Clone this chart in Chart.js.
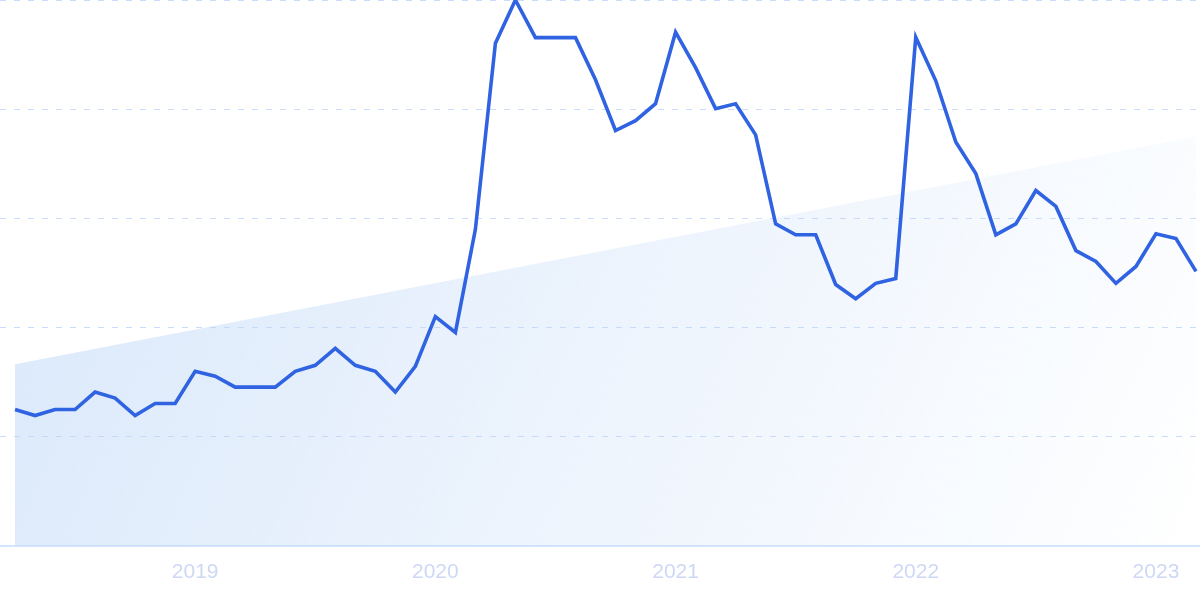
<!DOCTYPE html>
<html>
<head>
<meta charset="utf-8">
<script src="https://cdn.jsdelivr.net/npm/chart.js@4"></script>
<style>
  html, body { margin: 0; padding: 0; background: #fff; }
  #wrap { width: 1200px; height: 599px; position: relative; }
</style>
</head>
<body>
<div id="wrap"><canvas id="trendChart"></canvas></div>
<script>
/* 月度搜索热度 2018-04 ~ 2023-03 */

const interest = [
  25.0, 23.9, 25.0, 25.0, 28.2, 27.1, 23.9, 26.1, 26.1,
  32.0, 31.1, 29.1, 29.1, 29.1, 32.0, 33.1, 36.2, 33.1, 32.0, 28.2, 32.9, 42.0,
  39.1, 58.0, 92.1, 100, 93.1, 93.1, 93.1, 85.4, 76.1, 77.9, 81.0, 94.1,
  87.6, 80.1, 81.0, 75.3, 59.0, 57.0, 57.0, 47.9, 45.3, 48.1, 49.0, 93.2,
  85.2, 74.0, 68.2, 57.0, 59.0, 65.1, 62.2, 54.1, 52.1, 48.1, 51.2, 57.2,
  56.3, 50.3
];
const yearTicks = [9, 21, 33, 45, 57];
const yearLabels = ['2019', '2020', '2021', '2022', '2023'];
const trendStart = 33.3;
const trendEnd = 75.0;

const lineData = interest.map((v, i) => ({ x: i, y: v }));
const trendData = [
  { x: 0, y: trendStart },
  { x: interest.length - 1, y: trendEnd }
];

// 半透明渐变，让网格线透出来
function trendFill(context) {
  const chart = context.chart;
  const area = chart.chartArea;
  if (!area) return 'rgba(190,215,247,0.5)';
  const g = chart.ctx.createLinearGradient(area.left, area.top, area.right, area.bottom);
  g.addColorStop(0, 'rgba(188,214,247,0.58)');
  g.addColorStop(1, 'rgba(188,214,247,0)');
  return g;
}

new Chart(document.getElementById('trendChart'), {
  type: 'line',
  data: {
    datasets: [
      {
        label: 'interest',
        data: lineData,
        borderColor: '#2f63e1',
        borderWidth: 3.6,
        pointRadius: 0,
        tension: 0,
        fill: false,
        order: 1
      },
      {
        label: 'trend',
        data: trendData,
        borderWidth: 0,
        borderColor: 'rgba(0,0,0,0)',
        backgroundColor: trendFill,
        pointRadius: 0,
        fill: 'origin',
        order: 2
      }
    ]
  },
  options: {
    responsive: true,
    maintainAspectRatio: false,
    animation: false,
    layout: { padding: { left: 0, right: 0, top: 0, bottom: 0 } },
    plugins: { legend: { display: false }, tooltip: { enabled: false } },
    scales: {
      x: {
        type: 'linear',
        min: -0.75,
        max: 59.2,
        afterBuildTicks: axis => {
          axis.ticks = yearTicks.map(v => ({ value: v }));
        },
        grid: { display: false, drawTicks: false },
        border: { display: true, color: '#d5e5fb', width: 2 },
        ticks: {
          autoSkip: false,
          maxRotation: 0,
          padding: 16,
          color: '#cdd9f4',
          font: { family: '"Liberation Sans", Arial, sans-serif', size: 21, lineHeight: 1 },
          callback: v => yearLabels[yearTicks.indexOf(v)] || ''
        }
      },
      y: {
        min: 0,
        max: 100,
        ticks: { display: false, stepSize: 20 },
        grid: { color: '#c9ddfa', lineWidth: 1, drawTicks: false },
        border: { display: false, dash: [6, 8] }
      }
    }
  }
});
</script>
</body>
</html>
